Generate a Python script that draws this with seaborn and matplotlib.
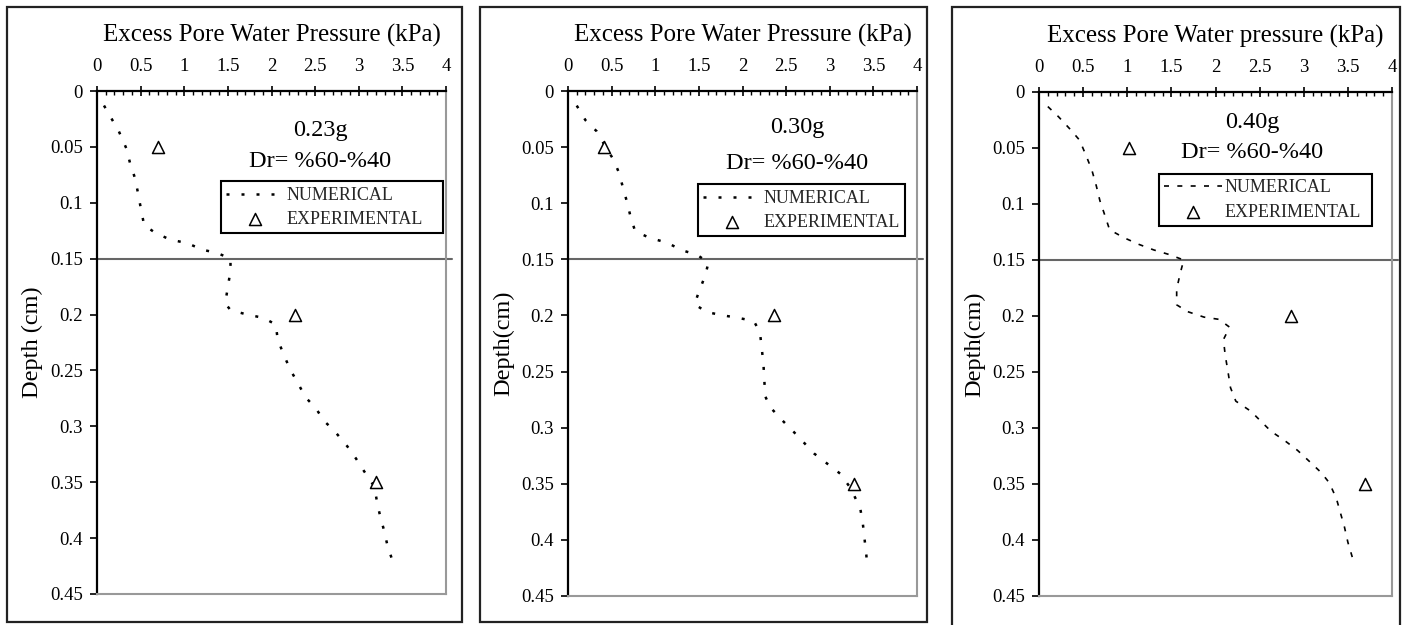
import numpy as np
import pandas as pd
import matplotlib
matplotlib.use("Agg")
import matplotlib.pyplot as plt
from matplotlib.patches import Rectangle
import seaborn as sns

# ---------------- data ----------------
xtick_values = [0, 0.5, 1, 1.5, 2, 2.5, 3, 3.5, 4]
xtick_labels = ["0", "0.5", "1", "1.5", "2", "2.5", "3", "3.5", "4"]
ytick_values = [0, 0.05, 0.1, 0.15, 0.2, 0.25, 0.3, 0.35, 0.4, 0.45]
ytick_labels = ["0", "0.05", "0.1", "0.15", "0.2", "0.25", "0.3", "0.35", "0.4", "0.45"]

titles = ["Excess Pore Water Pressure (kPa)",
          "Excess Pore Water Pressure (kPa)",
          "Excess Pore Water pressure (kPa)"]
ylabels = ["Depth (cm)", "Depth(cm)", "Depth(cm)"]
accels = ["0.23g", "0.30g", "0.40g"]
density_label = "Dr= %60-%40"
layer_boundary = 0.15

num_depth_1 = [0.013, 0.036, 0.052, 0.065, 0.079, 0.104, 0.120, 0.127, 0.133, 0.136, 0.142,
               0.145, 0.150, 0.161, 0.175, 0.190, 0.196, 0.200, 0.203, 0.209, 0.222, 0.236,
               0.250, 0.261, 0.274, 0.284, 0.295, 0.304, 0.318, 0.329, 0.340, 0.354, 0.368,
               0.382, 0.393, 0.407, 0.421]
num_press_1 = [0.08, 0.25, 0.34, 0.38, 0.44, 0.50, 0.54, 0.67, 0.84, 1.03, 1.21,
               1.38, 1.53, 1.53, 1.50, 1.47, 1.53, 1.72, 1.91, 2.05, 2.07, 2.14,
               2.22, 2.30, 2.39, 2.51, 2.60, 2.72, 2.87, 2.97, 3.06, 3.18, 3.21,
               3.25, 3.29, 3.33, 3.39]

num_depth_2 = [0.013, 0.026, 0.036, 0.047, 0.061, 0.072, 0.086, 0.100, 0.113, 0.125, 0.131,
               0.135, 0.142, 0.146, 0.153, 0.165, 0.179, 0.190, 0.197, 0.200, 0.202, 0.205,
               0.215, 0.229, 0.243, 0.272, 0.282, 0.293, 0.304, 0.313, 0.323, 0.332, 0.341,
               0.354, 0.372, 0.386, 0.400, 0.414, 0.425]
num_press_2 = [0.10, 0.20, 0.33, 0.41, 0.52, 0.58, 0.63, 0.68, 0.72, 0.77, 0.94,
               1.13, 1.31, 1.48, 1.61, 1.57, 1.50, 1.45, 1.59, 1.78, 1.94, 2.13,
               2.20, 2.22, 2.24, 2.26, 2.32, 2.45, 2.59, 2.70, 2.82, 2.97, 3.12,
               3.24, 3.35, 3.38, 3.40, 3.42, 3.43]

num_depth_3 = [0.013, 0.022, 0.033, 0.043, 0.058, 0.070, 0.084, 0.097, 0.111, 0.123, 0.130,
               0.136, 0.141, 0.145, 0.150, 0.162, 0.176, 0.190, 0.196, 0.201, 0.203, 0.210,
               0.221, 0.235, 0.249, 0.264, 0.276, 0.285, 0.303, 0.311, 0.320, 0.331, 0.340,
               0.349, 0.363, 0.377, 0.388, 0.402, 0.418]
num_press_3 = [0.10, 0.22, 0.35, 0.46, 0.54, 0.60, 0.65, 0.69, 0.75, 0.80, 0.96,
               1.13, 1.30, 1.47, 1.64, 1.60, 1.56, 1.56, 1.68, 1.87, 2.04, 2.16,
               2.09, 2.11, 2.14, 2.17, 2.23, 2.40, 2.63, 2.78, 2.93, 3.08, 3.20,
               3.29, 3.37, 3.42, 3.46, 3.50, 3.56]

exp_depth = [0.05, 0.20, 0.35]
exp_press_1 = [0.70, 2.27, 3.20]
exp_press_2 = [0.41, 2.36, 3.28]
exp_press_3 = [1.02, 2.85, 3.69]

# ---------------- style ----------------
sns.set_theme(style="white")
plt.rcParams["font.family"] = ["Liberation Serif", "DejaVu Serif"]

W, H = 1411, 625
fig = plt.figure(figsize=(W / 100, H / 100), dpi=100)

def fx(px):
    return px / W

def fy(py):
    return 1 - py / H

# axes pixel boxes (left, right, top, bottom)
axes_px = [(97, 446, 91, 594), (568, 917, 91, 596), (1039, 1392, 92, 596)]
frames_px = [(7, 462, 7, 622), (480, 927, 7, 622), (952, 1400, 7, 640)]
ann_pos = [((0.639, 0.922), (0.639, 0.859)),
           ((0.656, 0.927), (0.656, 0.857)),
           ((0.603, 0.940), (0.603, 0.879))]
leg_box = [(0.355, 0.714, 0.636, 0.109),
           (0.372, 0.713, 0.594, 0.101),
           (0.340, 0.736, 0.603, 0.099)]
line_styles = [dict(lw=1.8, ls=(0, (1.2, 4.8))),
               dict(lw=1.8, ls=(0, (1.2, 4.8))),
               dict(lw=1.2, ls=(0, (3.0, 5.0)))]

numerics = [(num_depth_1, num_press_1), (num_depth_2, num_press_2), (num_depth_3, num_press_3)]
experiments = [exp_press_1, exp_press_2, exp_press_3]

for i in range(3):
    l, r, t, b = axes_px[i]
    ax = fig.add_axes([fx(l), fy(b), (r - l) / W, (b - t) / H])
    ax.set_facecolor("white")

    fl, fr, ft, fb = frames_px[i]
    fig.patches.append(Rectangle((fx(fl), fy(fb)), (fr - fl) / W, (fb - ft) / H,
                                 transform=fig.transFigure, fill=False,
                                 edgecolor="#222222", lw=1.6, zorder=0))

    d, p = numerics[i]
    df_num = pd.DataFrame({"depth": d, "pressure": p})
    sns.lineplot(data=df_num, x="pressure", y="depth", sort=False, estimator=None,
                 ax=ax, color="black", label="NUMERICAL",
                 linewidth=line_styles[i]["lw"], linestyle=line_styles[i]["ls"])
    df_exp = pd.DataFrame({"depth": exp_depth, "pressure": experiments[i]})
    sns.scatterplot(data=df_exp, x="pressure", y="depth", ax=ax, marker="^",
                    s=75, facecolor="white", edgecolor="black", linewidth=1.1,
                    label="EXPERIMENTAL", zorder=5)

    ax.axhline(layer_boundary, xmin=0, xmax=1.018, color="#666666", lw=1.5,
               clip_on=False, zorder=1)

    ax.set_xlim(0, 4)
    ax.set_ylim(0.45, 0)
    ax.xaxis.tick_top()
    ax.xaxis.set_label_position("top")
    ax.set_xticks(xtick_values)
    ax.set_xticklabels(xtick_labels)
    ax.set_xticks(np.arange(0, 4.001, 0.1), minor=True)
    ax.set_yticks(ytick_values)
    ax.set_yticklabels(ytick_labels)
    ax.tick_params(axis="x", which="major", direction="inout", length=7, width=1.2,
                   colors="black", labelsize=13.5, pad=8, top=True, bottom=False)
    ax.tick_params(axis="x", which="minor", direction="in", length=3, width=1.0,
                   colors="black", top=True, bottom=False)
    ax.tick_params(axis="y", which="major", direction="out", length=5, width=1.2,
                   colors="black", labelsize=13.5, pad=5, left=True)

    ax.set_xlabel(titles[i], fontsize=18, labelpad=12, color="black")
    ax.set_ylabel(ylabels[i], fontsize=17.5, labelpad=5, color="black")

    for side in ["left", "top"]:
        ax.spines[side].set_color("black")
        ax.spines[side].set_linewidth(1.6)
    for side in ["right", "bottom"]:
        ax.spines[side].set_color("#999999")
        ax.spines[side].set_linewidth(1.5)
        ax.spines[side].set_visible(True)

    (ax1, ay1), (ax2, ay2) = ann_pos[i]
    ax.text(ax1, ay1, accels[i], transform=ax.transAxes, ha="center", va="center",
            fontsize=17.5, color="black")
    ax.text(ax2, ay2, density_label, transform=ax.transAxes, ha="center", va="center",
            fontsize=17.5, color="black")

    leg = ax.legend(loc="center left", bbox_to_anchor=leg_box[i], mode="expand",
                    borderaxespad=0, frameon=True, fancybox=False, shadow=False,
                    fontsize=13, handlelength=3.2, handletextpad=0.15,
                    labelspacing=0.4, borderpad=0.3, markerscale=1.0)
    leg.get_frame().set_edgecolor("black")
    leg.get_frame().set_linewidth(1.5)
    leg.get_frame().set_facecolor("white")
    leg.get_frame().set_alpha(1)

fig.savefig("out.png", dpi=100, facecolor="white")
